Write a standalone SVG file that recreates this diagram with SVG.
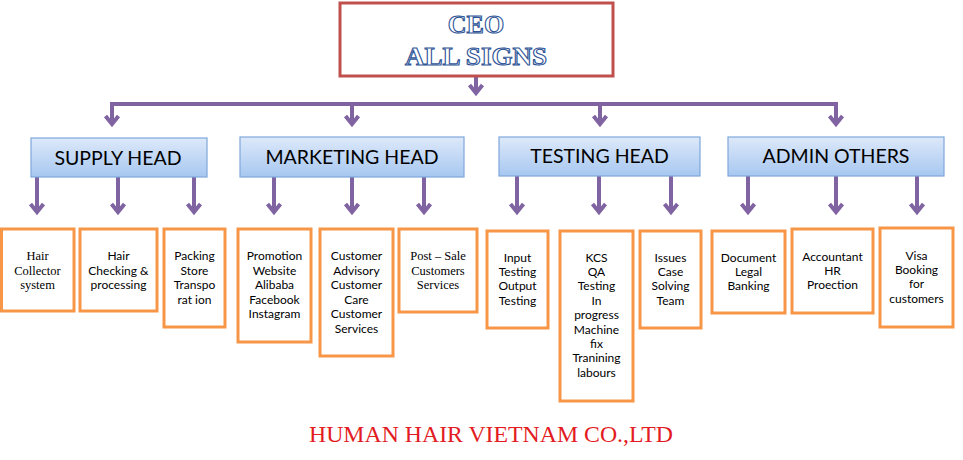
<svg xmlns="http://www.w3.org/2000/svg" width="963" height="460" viewBox="0 0 963 460">
<style>
.conn{stroke:#8064a2;stroke-width:4;fill:none}
.head rect{fill:url(#hg);stroke:#7fa7db;stroke-width:1.2}
.head text{font-family:Lato,"Open Sans",sans-serif;font-size:19.5px;fill:#000;text-anchor:middle}
.leaf rect{fill:#fff;stroke:#f79646;stroke-width:3}
.leaf text{font-family:Lato,"Open Sans",sans-serif;font-size:12px;fill:#000;text-anchor:middle}
.leaf text.serif{font-family:"Liberation Serif",serif;font-size:12.5px}
.ceo text{font-family:"Liberation Serif",serif;font-weight:bold;font-size:26px;fill:#fff;stroke:#2f5597;stroke-width:1.1;text-anchor:middle}
</style>
<defs>
<linearGradient id="hg" x1="0" y1="0" x2="0" y2="1">
<stop offset="0" stop-color="#dde9fa"/>
<stop offset="1" stop-color="#a7c7f0"/>
</linearGradient>
<marker id="ah" markerUnits="userSpaceOnUse" markerWidth="20" markerHeight="20" viewBox="-12 -10 16 20" refX="0" refY="0" orient="auto">
<path d="M-8,-6.5 L0,0 L-8,6.5" fill="none" stroke="#8064a2" stroke-width="4" stroke-linejoin="miter"/>
</marker>
</defs>
<rect width="963" height="460" fill="#fff"/>

<g id="connectors">
<line class="conn" x1="476" y1="77" x2="476" y2="93" marker-end="url(#ah)"/>
<polyline class="conn" points="112,124 112,104 836,104 836,124"/>
<line class="conn" x1="112" y1="104" x2="112" y2="124" marker-end="url(#ah)"/>
<line class="conn" x1="352" y1="104" x2="352" y2="124" marker-end="url(#ah)"/>
<line class="conn" x1="600" y1="104" x2="600" y2="124" marker-end="url(#ah)"/>
<line class="conn" x1="836" y1="104" x2="836" y2="124" marker-end="url(#ah)"/>
<line class="conn" x1="37" y1="177" x2="37" y2="212" marker-end="url(#ah)"/>
<line class="conn" x1="118" y1="177" x2="118" y2="212" marker-end="url(#ah)"/>
<line class="conn" x1="194" y1="177" x2="194" y2="212" marker-end="url(#ah)"/>
<line class="conn" x1="274" y1="177" x2="274" y2="212" marker-end="url(#ah)"/>
<line class="conn" x1="352" y1="177" x2="352" y2="212" marker-end="url(#ah)"/>
<line class="conn" x1="424" y1="177" x2="424" y2="212" marker-end="url(#ah)"/>
<line class="conn" x1="517" y1="176" x2="517" y2="212" marker-end="url(#ah)"/>
<line class="conn" x1="599" y1="176" x2="599" y2="212" marker-end="url(#ah)"/>
<line class="conn" x1="671" y1="176" x2="671" y2="212" marker-end="url(#ah)"/>
<line class="conn" x1="748" y1="176" x2="748" y2="212" marker-end="url(#ah)"/>
<line class="conn" x1="836" y1="176" x2="836" y2="212" marker-end="url(#ah)"/>
<line class="conn" x1="917" y1="176" x2="917" y2="212" marker-end="url(#ah)"/>
</g>

<g id="ceo" class="ceo">
<rect x="340" y="3" width="273" height="73" fill="#fff" stroke="#c0504d" stroke-width="3"/>
<text x="476" y="33" font-size="27px">CEO</text>
<text x="476" y="65" textLength="142" lengthAdjust="spacingAndGlyphs">ALL SIGNS</text>
</g>

<g id="supply-head" class="head"><rect x="31" y="138" width="176" height="39"/><text x="118" y="164.5">SUPPLY HEAD</text></g>
<g id="marketing-head" class="head"><rect x="240" y="137" width="224" height="40"/><text x="352" y="164">MARKETING HEAD</text></g>
<g id="testing-head" class="head"><rect x="499" y="137" width="201" height="39"/><text x="599.5" y="163">TESTING HEAD</text></g>
<g id="admin-head" class="head"><rect x="728" y="137" width="216" height="39"/><text x="836" y="163">ADMIN OTHERS</text></g>

<g id="leaf-hair-collector" class="leaf"><rect x="1.5" y="229" width="72.5" height="82"/>
<text class="serif" x="37.5" y="260">Hair</text><text class="serif" x="37.5" y="274.5">Collector</text><text class="serif" x="37.5" y="289">system</text></g>
<g id="leaf-hair-checking" class="leaf"><rect x="80" y="229" width="77" height="82"/>
<text x="118.5" y="260">Hair</text><text x="118.5" y="274.5">Checking &amp;</text><text x="118.5" y="289">processing</text></g>
<g id="leaf-packing" class="leaf"><rect x="164" y="229" width="61" height="98"/>
<text x="194.5" y="260">Packing</text><text x="194.5" y="274.5">Store</text><text x="194.5" y="289">Transpo</text><text x="194.5" y="303.5">rat ion</text></g>
<g id="leaf-promotion" class="leaf"><rect x="238" y="229" width="73" height="113"/>
<text x="274.5" y="260">Promotion</text><text x="274.5" y="274.5">Website</text><text x="274.5" y="289">Alibaba</text><text x="274.5" y="303.5">Facebook</text><text x="274.5" y="318">Instagram</text></g>
<g id="leaf-customer" class="leaf"><rect x="320" y="229" width="73" height="127"/>
<text x="356.5" y="260">Customer</text><text x="356.5" y="274.5">Advisory</text><text x="356.5" y="289">Customer</text><text x="356.5" y="303.5">Care</text><text x="356.5" y="318">Customer</text><text x="356.5" y="332.5">Services</text></g>
<g id="leaf-postsale" class="leaf"><rect x="399" y="229" width="78" height="83"/>
<text class="serif" x="438" y="260">Post – Sale</text><text class="serif" x="438" y="274.5">Customers</text><text class="serif" x="438" y="289">Services</text></g>
<g id="leaf-input" class="leaf"><rect x="487" y="231" width="61" height="97"/>
<text x="517.5" y="262">Input</text><text x="517.5" y="276">Testing</text><text x="517.5" y="290">Output</text><text x="517.5" y="304.5">Testing</text></g>
<g id="leaf-kcs" class="leaf"><rect x="560" y="231" width="73" height="170"/>
<text x="596.5" y="262">KCS</text><text x="596.5" y="276">QA</text><text x="596.5" y="290">Testing</text><text x="596.5" y="304.5">In</text><text x="596.5" y="319">progress</text><text x="596.5" y="333.5">Machine</text><text x="596.5" y="348">fix</text><text x="596.5" y="362">Tranining</text><text x="596.5" y="376.5">labours</text></g>
<g id="leaf-issues" class="leaf"><rect x="640" y="231" width="61" height="97"/>
<text x="670.5" y="262">Issues</text><text x="670.5" y="276">Case</text><text x="670.5" y="290">Solving</text><text x="670.5" y="304.5">Team</text></g>
<g id="leaf-document" class="leaf"><rect x="712" y="231" width="73" height="82"/>
<text x="748.5" y="262">Document</text><text x="748.5" y="276">Legal</text><text x="748.5" y="290">Banking</text></g>
<g id="leaf-accountant" class="leaf"><rect x="792" y="229" width="81" height="84"/>
<text x="832.5" y="261">Accountant</text><text x="832.5" y="275">HR</text><text x="832.5" y="289">Proection</text></g>
<g id="leaf-visa" class="leaf"><rect x="880" y="228" width="73" height="99"/>
<text x="916.5" y="260">Visa</text><text x="916.5" y="274">Booking</text><text x="916.5" y="288">for</text><text x="916.5" y="303">customers</text></g>

<text x="491" y="442" font-family="Liberation Serif,serif" font-size="24px" fill="#e31b23" text-anchor="middle" textLength="364" lengthAdjust="spacingAndGlyphs">HUMAN  HAIR VIETNAM  CO.,LTD</text>
</svg>
